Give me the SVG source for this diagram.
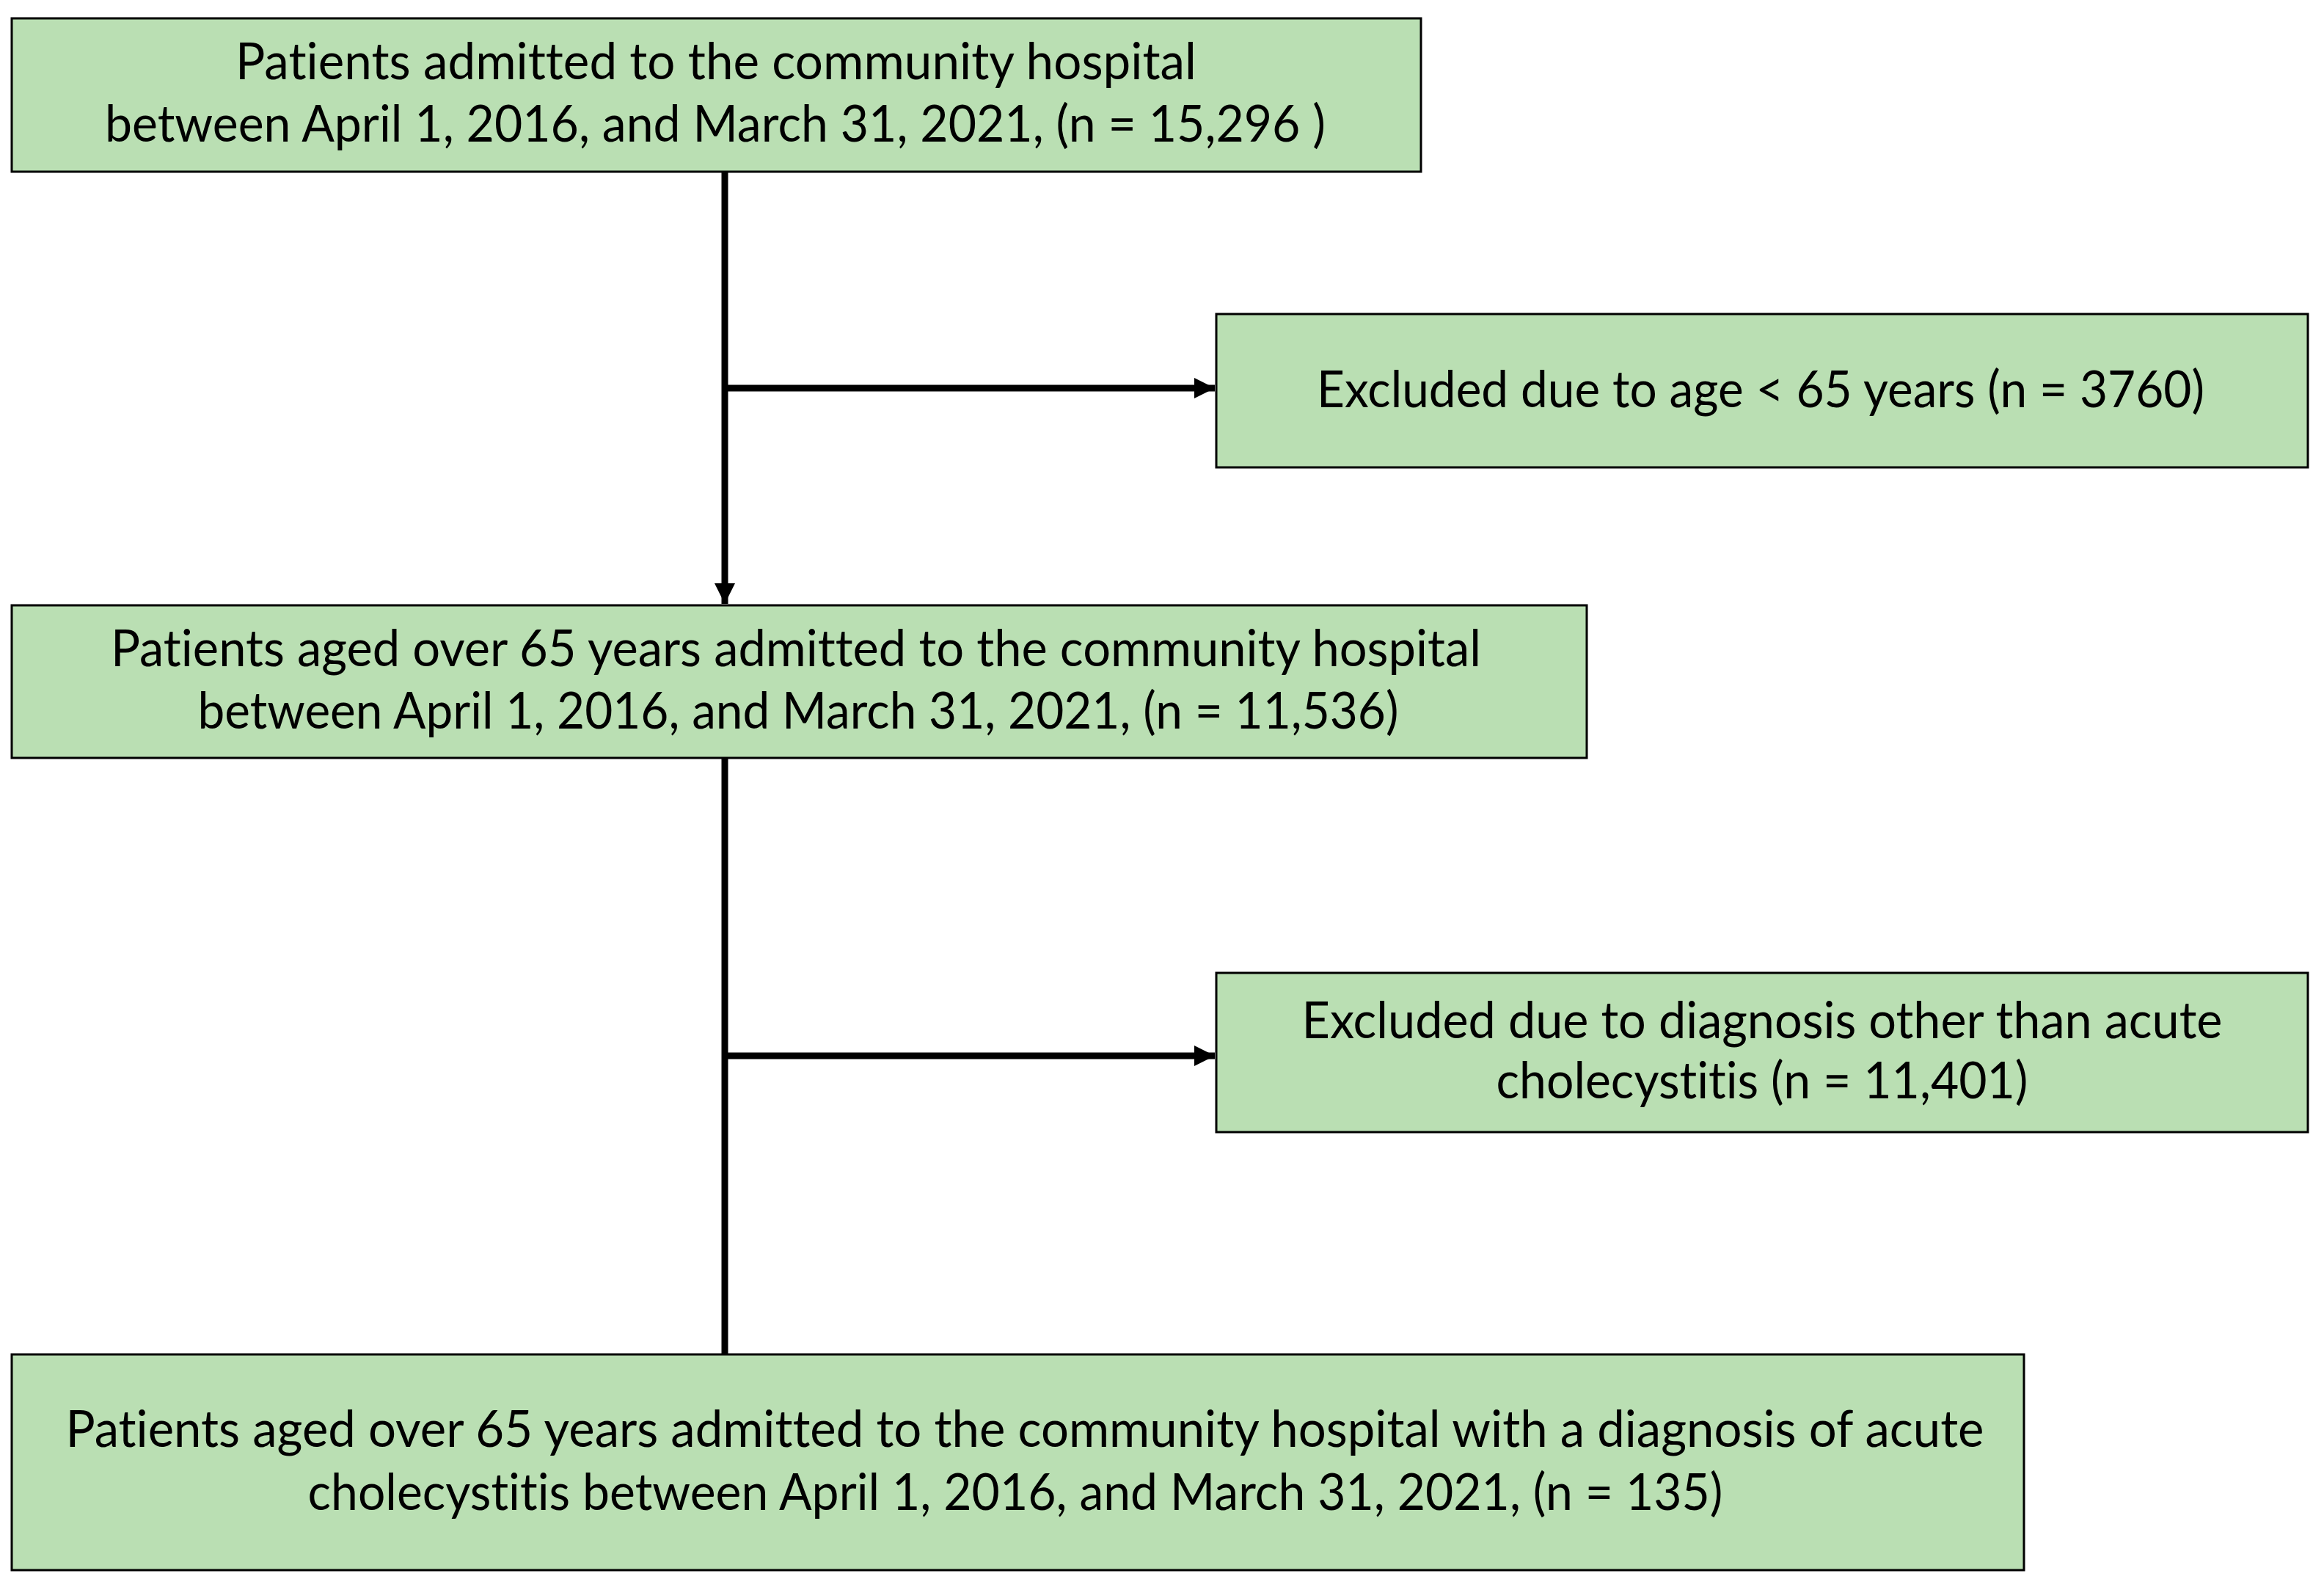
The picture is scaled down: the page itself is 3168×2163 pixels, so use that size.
<svg xmlns="http://www.w3.org/2000/svg" width="3168" height="2163" viewBox="0 0 3168 2163">
<style>
.box{fill:#BADFB3;stroke:#000;stroke-width:3}
.t{font-family:Lato,"Open Sans","Liberation Sans",sans-serif;font-size:70px;fill:#000;text-anchor:middle;font-variant-ligatures:none;font-feature-settings:"liga" 0,"clig" 0,"dlig" 0,"calt" 0}
.c{stroke:#000;stroke-width:9;fill:none}
</style>
<defs>
<marker id="ah" markerUnits="userSpaceOnUse" markerWidth="30" markerHeight="30" refX="28" refY="15" orient="auto">
<path d="M0,1 L28,15 L0,29 z" fill="#000"/>
</marker>
</defs>
<rect width="3168" height="2163" fill="#fff"/>
<g id="connectors">
<line class="c" x1="988" y1="234" x2="988" y2="823" marker-end="url(#ah)"/>
<line class="c" x1="988" y1="529" x2="1656" y2="529" marker-end="url(#ah)"/>
<line class="c" x1="988" y1="1033" x2="988" y2="1845"/>
<line class="c" x1="988" y1="1439" x2="1656" y2="1439" marker-end="url(#ah)"/>
</g>
<g id="n1">
<rect class="box" x="16" y="25" width="1921" height="209"/>
<text class="t" x="976" y="108" textLength="1310" lengthAdjust="spacingAndGlyphs">Patients admitted to the community hospital</text>
<text class="t" x="975" y="193" textLength="1664" lengthAdjust="spacingAndGlyphs">between April 1, 2016, and March 31, 2021, (n = 15,296 )</text>
</g>
<g id="n2">
<rect class="box" x="1658" y="428" width="1488" height="209"/>
<text class="t" x="2400" y="555" textLength="1210" lengthAdjust="spacingAndGlyphs">Excluded due to age &lt; 65 years (n = 3760)</text>
</g>
<g id="n3">
<rect class="box" x="16" y="825" width="2147" height="208"/>
<text class="t" x="1085" y="908" textLength="1868" lengthAdjust="spacingAndGlyphs">Patients aged over 65 years admitted to the community hospital</text>
<text class="t" x="1088" y="993" textLength="1637" lengthAdjust="spacingAndGlyphs">between April 1, 2016, and March 31, 2021, (n = 11,536)</text>
</g>
<g id="n4">
<rect class="box" x="1658" y="1326" width="1488" height="217"/>
<text class="t" x="2402" y="1415" textLength="1255" lengthAdjust="spacingAndGlyphs">Excluded due to diagnosis other than acute</text>
<text class="t" x="2402" y="1497" textLength="725" lengthAdjust="spacingAndGlyphs">cholecystitis (n = 11,401)</text>
</g>
<g id="n5">
<rect class="box" x="16" y="1846" width="2743" height="294"/>
<text class="t" x="1397" y="1972" textLength="2615" lengthAdjust="spacingAndGlyphs">Patients aged over 65 years admitted to the community hospital with a diagnosis of acute</text>
<text class="t" x="1384" y="2058" textLength="1929" lengthAdjust="spacingAndGlyphs">cholecystitis between April 1, 2016, and March 31, 2021, (n = 135)</text>
</g>
</svg>
